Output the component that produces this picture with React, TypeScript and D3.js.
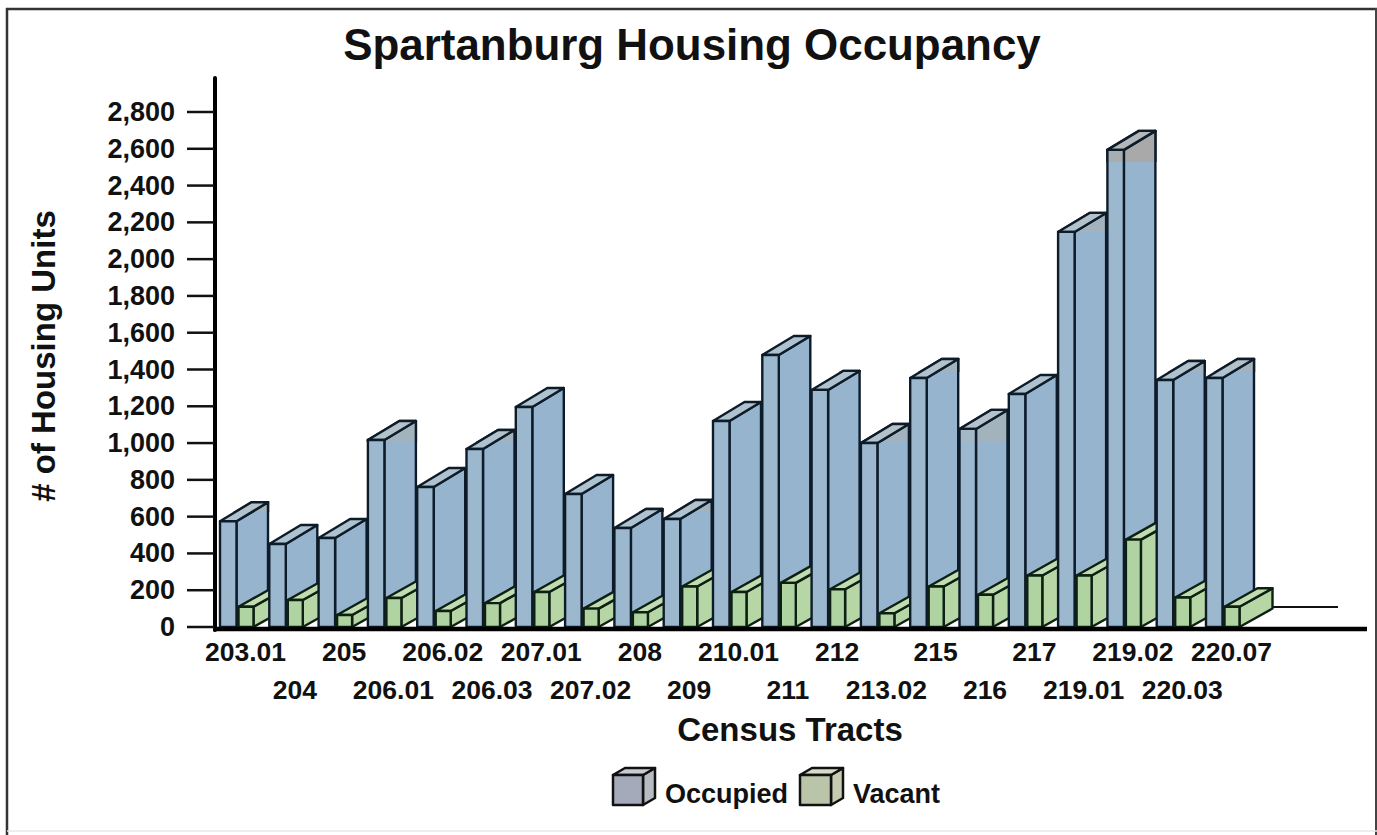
import React from "react";
import * as d3 from "d3";

const categories = ["203.01","204","205","206.01","206.02","206.03","207.01","207.02","208","209","210.01","211","212","213.02","215","216","217","219.01","219.02","220.03","220.07"];
const occupied = [575,451,484,1017,761,968,1196,723,538,587,1120,1479,1289,1000,1354,1077,1267,2148,2594,1343,1354];
const vacant = [110,147,65,158,87,130,190,100,80,220,190,240,205,75,220,175,280,280,475,160,110];
const yTicks = d3.range(0, 2801, 200);

const W = 1377, H = 835;
const y = d3.scaleLinear().domain([0, 2800]).range([627, 112]);
const x = d3.scalePoint<string>().domain(categories).range([220, 1206]);
const fmt = d3.format(",");
const FONT = "'Liberation Sans', Arial, sans-serif";
const INK = "#0e1c2a";
const OCC_DY = 19;

function pts(p: number[][]) { return p.map(a => a.join(",")).join(" "); }

// The reference's muted band runs down from a bar's top to the next 70px step, when that step is close.
function bandEnd(yTop: number) {
  const backTop = yTop - OCC_DY;
  const end = 92 + Math.ceil((backTop - 92) / 70) * 70;
  return end - backTop <= 36 ? end : 0;
}

function Box({ x0, w, yTop, yBase, dx, dy, front, side, top, sw = 2.4, stroke = INK }: any) {
  const x1 = x0 + w;
  return (
    <g stroke={stroke} strokeWidth={sw} strokeLinejoin="round">
      <polygon points={pts([[x1, yBase],[x1, yTop],[x1 + dx, yTop - dy],[x1 + dx, yBase - dy]])} fill={side} />
      <polygon points={pts([[x0, yTop],[x1, yTop],[x1 + dx, yTop - dy],[x0 + dx, yTop - dy]])} fill={top} />
      <rect x={x0} y={yTop} width={w} height={yBase - yTop} fill={front} />
    </g>
  );
}

export default function App() {
  const base = y(0);
  return (
    <svg width={W} height={H} viewBox={`0 0 ${W} ${H}`} style={{ position: "absolute", left: 0, top: 0, background: "#fff" }} fontFamily={FONT}>
      <defs>
        {categories.map((c, i) => (
          <clipPath key={c} id={`cap${i}`}>
            <rect x={0} y={0} width={W} height={bandEnd(y(occupied[i]))} />
          </clipPath>
        ))}
      </defs>

      <line x1={7} x2={7} y1={8} y2={835} stroke="#333" strokeWidth={2.5} />
      <line x1={6} x2={1377} y1={9} y2={9} stroke="#333" strokeWidth={2.5} />
      <line x1={1376} x2={1376} y1={8} y2={835} stroke="#444" strokeWidth={2} />
      <line x1={7} x2={1377} y1={831} y2={831} stroke="#e8e8e8" strokeWidth={1.5} />

      <text x={692} y={60} textAnchor="middle" fontSize={43.9} fontWeight={700} fill="#111">Spartanburg Housing Occupancy</text>

      <line x1={1272} x2={1338} y1={607} y2={607} stroke="#111" strokeWidth={2} />

      {categories.map((c, i) => {
        const x0 = x(c)!;
        const yTop = y(occupied[i]);
        const end = bandEnd(yTop);
        const grey = end < 170;
        return (
          <g key={c}>
            <Box x0={x0} w={16.5} yTop={yTop} yBase={base} dx={31.5} dy={OCC_DY}
              front="#9bb8cf" side="#96b4ce" top="#aec2d0" />
            {end > 0 && (
              <g clipPath={`url(#cap${i})`}>
                <Box x0={x0} w={16.5} yTop={yTop} yBase={base} dx={31.5} dy={OCC_DY}
                  front={grey ? "#a8adb0" : "#a4b7c4"} side={grey ? "#a9a9a9" : "#a3b3be"} top={grey ? "#b4b8ba" : "#b4c2cc"} />
              </g>
            )}
            <Box x0={x0 + 18.5} w={15} yTop={y(vacant[i])} yBase={base} dx={33} dy={18.5}
              front="#b0d3a2" side="#b6d6a6" top="#c0dcb0" stroke="#0d2012" />
          </g>
        );
      })}

      <line x1={215} x2={215} y1={78} y2={630} stroke="#000" strokeWidth={4} strokeLinecap="round" />
      <line x1={213} x2={1367} y1={629} y2={629} stroke="#000" strokeWidth={4.5} />

      {yTicks.map(t => (
        <g key={t}>
          <line x1={187} x2={214} y1={y(t)} y2={y(t)} stroke="#111" strokeWidth={2.5} />
          <text x={175} y={y(t) + 9} textAnchor="end" fontSize={27} fontWeight={700} fill="#111">{fmt(t)}</text>
        </g>
      ))}

      {categories.map((c, i) => (
        <text key={c} x={x(c)! + 25.5} y={i % 2 === 0 ? 661 : 699} textAnchor="middle" fontSize={26.5} fontWeight={700} fill="#111">{c}</text>
      ))}

      <text x={790} y={741} textAnchor="middle" fontSize={33} fontWeight={700} fill="#111">Census Tracts</text>
      <text transform="translate(55,356) rotate(-90)" textAnchor="middle" fontSize={33} fontWeight={700} fill="#111"># of Housing Units</text>

      <Box x0={613} w={30} yTop={775} yBase={805} dx={12} dy={7} front="#a5aaba" side="#b6bcc2" top="#c8ccd0" sw={2.5} stroke="#111" />
      <text x={665} y={803} fontSize={27} fontWeight={700} fill="#111">Occupied</text>
      <Box x0={800} w={31} yTop={775} yBase={805} dx={12} dy={7} front="#b9c4a8" side="#c6ccb2" top="#d6dac6" sw={2.5} stroke="#111" />
      <text x={853} y={803} fontSize={27} fontWeight={700} fill="#111">Vacant</text>
    </svg>
  );
}
